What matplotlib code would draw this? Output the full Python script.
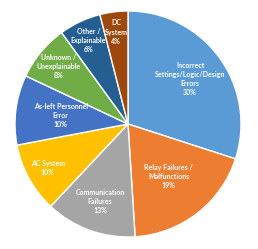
import numpy as np
import matplotlib
matplotlib.use("Agg")
import matplotlib.pyplot as plt

labels = [
    "Incorrect\nSettings/Logic/Design\nErrors",
    "Relay Failures /\nMalfunctions",
    "Communication\nFailures",
    "AC System",
    "As-left Personnel\nError",
    "Unknown /\nUnexplainable",
    "Other /\nExplainable",
    "DC\nSystem",
]
shares = [30, 19, 13, 10, 10, 8, 6, 4]
colors = ["#5B9BD5", "#ED7D31", "#A5A5A5", "#FFC000",
          "#4472C4", "#70AD47", "#255E91", "#9E480E"]
# radial position of each label (fraction of radius)
label_r = [0.68, 0.59, 0.73, 0.81, 0.60, 0.80, 0.82, 0.82]

fig = plt.figure(figsize=(2.58, 2.49), dpi=100)
ax = fig.add_axes([15 / 258, 12 / 249, 226 / 258, 226 / 249])

wedges, _ = ax.pie(
    shares,
    colors=colors,
    startangle=90,
    counterclock=False,
    wedgeprops=dict(edgecolor="white", linewidth=1.0),
)

for w, lab, val, r in zip(wedges, labels, shares, label_r):
    ang = np.deg2rad((w.theta1 + w.theta2) / 2)
    ax.text(r * np.cos(ang), r * np.sin(ang), f"{lab}\n{val}%",
            ha="center", va="center", color="white", fontsize=5,
            fontweight="bold", family="Lato", linespacing=1.35)

ax.set_xlim(-1, 1)
ax.set_ylim(-1, 1)
ax.set_aspect("equal")
ax.axis("off")

fig.savefig("out.png", dpi=100)
